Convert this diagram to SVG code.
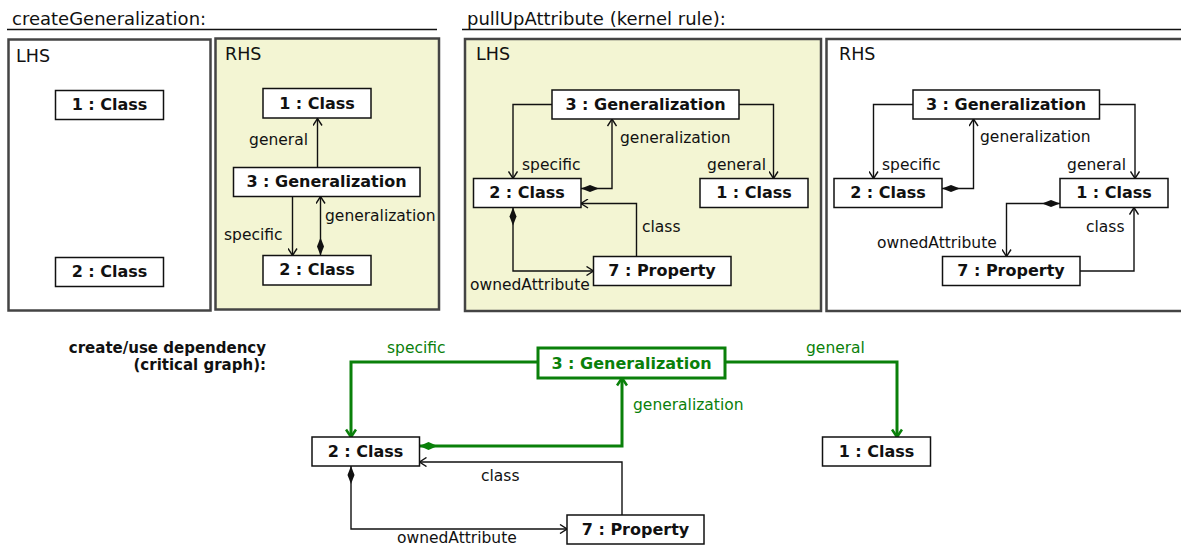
<svg xmlns="http://www.w3.org/2000/svg" width="1181" height="547" viewBox="0 0 1181 547">
  <style>
    .title { font-family: "DejaVu Sans", sans-serif; font-size: 18px; fill: #111; }
    .frame { stroke: #444; stroke-width: 2.5; }
    .lhsfill { fill: #ffffff; }
    .rhsfill { fill: #f3f5d3; }
    .ftxt { font-family: "DejaVu Sans", sans-serif; font-size: 17.5px; fill: #111; }
    .node rect { fill: #fff; stroke: #111; stroke-width: 1.5; }
    .node text { font-family: "DejaVu Sans", sans-serif; font-size: 16px; font-weight: bold; fill: #111; text-anchor: middle; }
    .gnode rect { fill: #fff; stroke: #0a800a; stroke-width: 3; }
    .gnode text { font-family: "DejaVu Sans", sans-serif; font-size: 16px; font-weight: bold; fill: #0a800a; text-anchor: middle; }
    .edge { fill: none; stroke: #111; stroke-width: 1.4; }
    .gedge { fill: none; stroke: #0a800a; stroke-width: 3; }
    .lbl { font-family: "DejaVu Sans", sans-serif; font-size: 15.5px; fill: #111; }
    .glbl { font-family: "DejaVu Sans", sans-serif; font-size: 15.5px; fill: #0a800a; }
    .hdr { font-family: "DejaVu Sans", sans-serif; font-size: 15px; font-weight: bold; fill: #111; text-anchor: end; }
  </style>
  <defs>
    <marker id="arrow" viewBox="0 0 10 10" refX="9" refY="5" markerWidth="10" markerHeight="10" markerUnits="userSpaceOnUse" orient="auto">
      <path d="M2,0.5 L9,5 L2,9.5" fill="none" stroke="#111" stroke-width="1.4"/>
    </marker>
    <marker id="diamond" viewBox="0 0 18 8" refX="0" refY="4" markerWidth="18" markerHeight="8" markerUnits="userSpaceOnUse" orient="auto">
      <path d="M0,4 L9,0.5 L18,4 L9,7.5 Z" fill="#111"/>
    </marker>
    <marker id="garrow" viewBox="0 0 12 12" refX="10.5" refY="6" markerWidth="12" markerHeight="12" markerUnits="userSpaceOnUse" orient="auto">
      <path d="M3,1 L10.5,6 L3,11" fill="none" stroke="#0a800a" stroke-width="2.6"/>
    </marker>
    <marker id="gdiamond" viewBox="0 0 18 10" refX="0" refY="5" markerWidth="18" markerHeight="10" markerUnits="userSpaceOnUse" orient="auto">
      <path d="M0,5 L9,1 L18,5 L9,9 Z" fill="#0a800a"/>
    </marker>
  </defs>

  <!-- rule headers -->
  <g id="header-createGeneralization">
    <text class="title" x="12" y="25">createGeneralization:</text>
    <line x1="7" y1="29.5" x2="437" y2="29.5" stroke="#111" stroke-width="1.5"/>
  </g>
  <g id="header-pullUpAttribute">
    <text class="title" x="467" y="25">pullUpAttribute (kernel rule):</text>
    <line x1="462" y1="29.5" x2="1181" y2="29.5" stroke="#111" stroke-width="1.5"/>
  </g>

  <!-- frames -->
  <g id="cg-lhs-frame">
    <rect class="frame lhsfill" x="8.5" y="39.5" width="202" height="271"/>
    <text class="ftxt" x="16" y="62">LHS</text>
  </g>
  <g id="cg-rhs-frame">
    <rect class="frame rhsfill" x="215.5" y="38.5" width="223.5" height="271"/>
    <text class="ftxt" x="225" y="60">RHS</text>
  </g>
  <g id="pu-lhs-frame">
    <rect class="frame rhsfill" x="465" y="39" width="356" height="272"/>
    <text class="ftxt" x="476" y="60">LHS</text>
  </g>
  <g id="pu-rhs-frame">
    <rect class="frame lhsfill" x="826.5" y="39" width="360" height="272"/>
    <text class="ftxt" x="839" y="60">RHS</text>
  </g>

  <!-- connectors -->
  <g id="connectors">
    <!-- createGeneralization RHS -->
    <path class="edge" d="M317.5,167.5 V118.5" marker-end="url(#arrow)"/>
    <path class="edge" d="M292.5,196.5 V255.5" marker-end="url(#arrow)"/>
    <path class="edge" d="M320.5,255.5 V196.5" marker-start="url(#diamond)" marker-end="url(#arrow)"/>
    <text class="lbl" x="308" y="145" text-anchor="end">general</text>
    <text class="lbl" x="224" y="240">specific</text>
    <text class="lbl" x="325" y="221">generalization</text>

    <!-- pullUpAttribute LHS -->
    <path class="edge" d="M552,104.5 H513 V178.5" marker-end="url(#arrow)"/>
    <path class="edge" d="M581,188.5 H612 V119" marker-start="url(#diamond)" marker-end="url(#arrow)"/>
    <path class="edge" d="M739,104.5 H773.5 V178.5" marker-end="url(#arrow)"/>
    <path class="edge" d="M636.5,256.5 V203.5 H581" marker-end="url(#arrow)"/>
    <path class="edge" d="M513,207.5 V271 H593.5" marker-start="url(#diamond)" marker-end="url(#arrow)"/>
    <text class="lbl" x="522" y="170">specific</text>
    <text class="lbl" x="620" y="143">generalization</text>
    <text class="lbl" x="766" y="170" text-anchor="end">general</text>
    <text class="lbl" x="642" y="232">class</text>
    <text class="lbl" x="470" y="290">ownedAttribute</text>

    <!-- pullUpAttribute RHS -->
    <path class="edge" d="M913,104.5 H873.5 V178.5" marker-end="url(#arrow)"/>
    <path class="edge" d="M942,188.5 H973.5 V119" marker-start="url(#diamond)" marker-end="url(#arrow)"/>
    <path class="edge" d="M1099.5,104.5 H1135 V178.5" marker-end="url(#arrow)"/>
    <path class="edge" d="M1060,203.5 H1006.5 V256.5" marker-start="url(#diamond)" marker-end="url(#arrow)"/>
    <path class="edge" d="M1080,271 H1134 V207.5" marker-end="url(#arrow)"/>
    <text class="lbl" x="882" y="170">specific</text>
    <text class="lbl" x="980" y="142">generalization</text>
    <text class="lbl" x="1126" y="170" text-anchor="end">general</text>
    <text class="lbl" x="877" y="248">ownedAttribute</text>
    <text class="lbl" x="1086" y="232">class</text>

    <!-- critical graph -->
    <path class="gedge" d="M538,362 H351 V437" marker-end="url(#garrow)"/>
    <path class="gedge" d="M725,362 H897 V437" marker-end="url(#garrow)"/>
    <path class="gedge" d="M419.5,446 H622 V378" marker-start="url(#gdiamond)" marker-end="url(#garrow)"/>
    <path class="edge" d="M622,515 V462 H419.5" stroke="#333" marker-end="url(#arrow)"/>
    <path class="edge" d="M351,466 V529 H567" marker-start="url(#diamond)" marker-end="url(#arrow)"/>
    <text class="glbl" x="387" y="353">specific</text>
    <text class="glbl" x="806" y="353">general</text>
    <text class="glbl" x="633" y="410">generalization</text>
    <text class="lbl" x="481" y="481">class</text>
    <text class="lbl" x="397" y="542.5">ownedAttribute</text>
  </g>

  <!-- createGeneralization LHS nodes -->
  <g id="cg-lhs-class1" class="node">
    <rect x="55.5" y="90.5" width="108" height="29"/>
    <text x="109.5" y="109.5">1 : Class</text>
  </g>
  <g id="cg-lhs-class2" class="node">
    <rect x="55.5" y="257.5" width="108" height="29"/>
    <text x="109.5" y="276.5">2 : Class</text>
  </g>

  <!-- createGeneralization RHS nodes -->
  <g id="cg-rhs-class1" class="node">
    <rect x="263" y="88.5" width="108" height="29.5"/>
    <text x="317" y="108.5">1 : Class</text>
  </g>
  <g id="cg-rhs-gen3" class="node">
    <rect x="233.5" y="167.5" width="186.5" height="29"/>
    <text x="326.5" y="187">3 : Generalization</text>
  </g>
  <g id="cg-rhs-class2" class="node">
    <rect x="263" y="255.5" width="108" height="29.5"/>
    <text x="317" y="275">2 : Class</text>
  </g>

  <!-- pullUpAttribute LHS nodes -->
  <g id="pu-lhs-gen3" class="node">
    <rect x="552" y="90" width="187" height="29"/>
    <text x="645.5" y="109.5">3 : Generalization</text>
  </g>
  <g id="pu-lhs-class2" class="node">
    <rect x="473.5" y="178.5" width="107.5" height="29"/>
    <text x="527" y="198">2 : Class</text>
  </g>
  <g id="pu-lhs-class1" class="node">
    <rect x="700" y="178.5" width="108" height="29"/>
    <text x="754" y="198">1 : Class</text>
  </g>
  <g id="pu-lhs-prop7" class="node">
    <rect x="593.5" y="256.5" width="137.5" height="29"/>
    <text x="662" y="276">7 : Property</text>
  </g>

  <!-- pullUpAttribute RHS nodes -->
  <g id="pu-rhs-gen3" class="node">
    <rect x="913" y="90" width="186.5" height="29"/>
    <text x="1006" y="109.5">3 : Generalization</text>
  </g>
  <g id="pu-rhs-class2" class="node">
    <rect x="834" y="178.5" width="108" height="29"/>
    <text x="888" y="198">2 : Class</text>
  </g>
  <g id="pu-rhs-class1" class="node">
    <rect x="1060" y="178.5" width="108" height="29"/>
    <text x="1114" y="198">1 : Class</text>
  </g>
  <g id="pu-rhs-prop7" class="node">
    <rect x="942.5" y="256.5" width="137.5" height="29"/>
    <text x="1011" y="276">7 : Property</text>
  </g>

  <!-- critical graph -->
  <g id="critical-header">
    <text class="hdr" x="266" y="353">create/use dependency</text>
    <text class="hdr" x="266" y="370">(critical graph):</text>
  </g>
  <g id="cr-gen3" class="gnode">
    <rect x="538" y="348" width="187" height="30"/>
    <text x="631.5" y="368.5">3 : Generalization</text>
  </g>
  <g id="cr-class2" class="node">
    <rect x="312" y="437" width="107.5" height="29"/>
    <text x="365.5" y="456.5">2 : Class</text>
  </g>
  <g id="cr-class1" class="node">
    <rect x="822.5" y="437" width="108" height="29"/>
    <text x="876.5" y="456.5">1 : Class</text>
  </g>
  <g id="cr-prop7" class="node">
    <rect x="567" y="515" width="137" height="29"/>
    <text x="635.5" y="534.5">7 : Property</text>
  </g>
</svg>
